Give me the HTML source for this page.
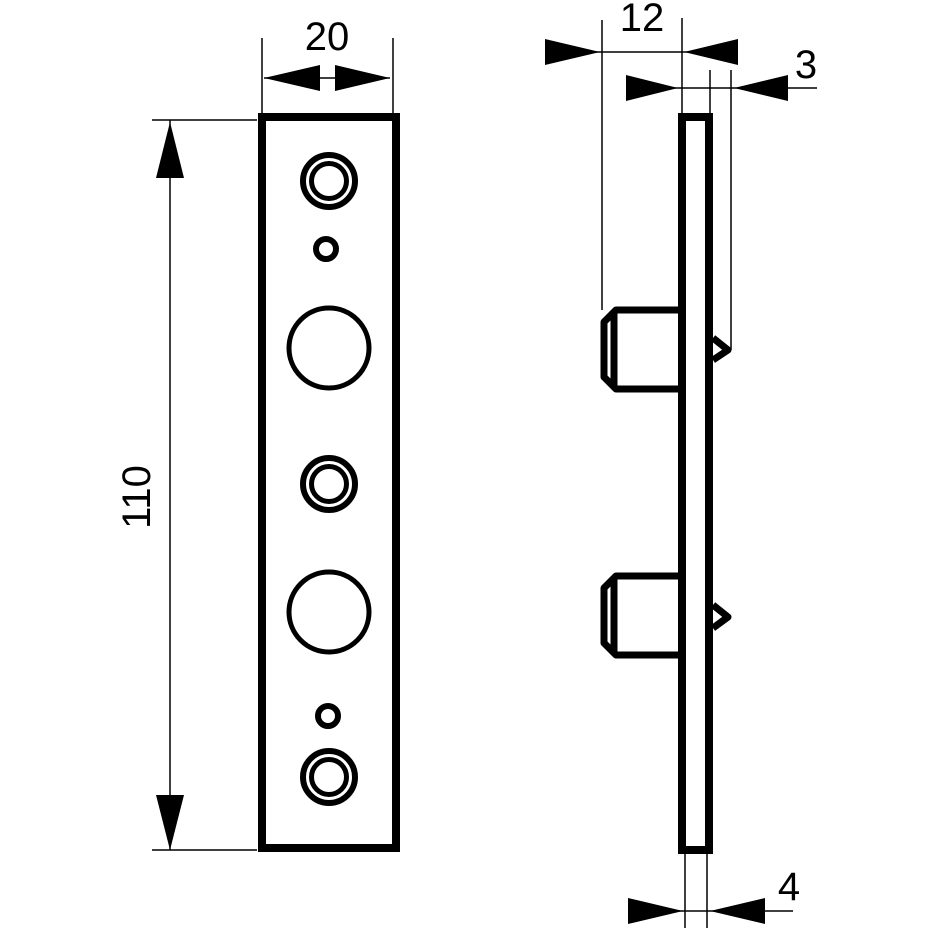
<!DOCTYPE html>
<html><head><style>html,body{margin:0;padding:0;background:#fff}svg{display:block}text{font-family:"Liberation Sans",sans-serif;fill:#000}</style></head>
<body>
<svg width="940" height="940" viewBox="0 0 940 940" xmlns="http://www.w3.org/2000/svg">
<rect x="262" y="117" width="134" height="731" fill="none" stroke="#000" stroke-width="8"/>
<g fill="none" stroke="#000">
 <circle cx="329" cy="181" r="26" stroke-width="6"/><circle cx="329" cy="181" r="17.5" stroke-width="5"/>
 <circle cx="329" cy="484" r="26" stroke-width="6"/><circle cx="329" cy="484" r="17.5" stroke-width="5"/>
 <circle cx="329" cy="777" r="26" stroke-width="6"/><circle cx="329" cy="777" r="17.5" stroke-width="5"/>
 <circle cx="326" cy="249" r="10" stroke-width="6"/>
 <circle cx="328" cy="716" r="10" stroke-width="6"/>
 <circle cx="329" cy="348" r="40" stroke-width="5"/>
 <circle cx="329" cy="612" r="40" stroke-width="5"/>
</g>
<g stroke="#000" stroke-width="1.5">
 <line x1="262" y1="38" x2="262" y2="113"/><line x1="393" y1="38" x2="393" y2="113"/>
 <line x1="264" y1="78" x2="390" y2="78"/>
 <line x1="152" y1="120" x2="257" y2="120"/><line x1="152" y1="850" x2="257" y2="850"/>
 <line x1="170" y1="120" x2="170" y2="850"/>
</g>
<polygon points="264,78 320,65 320,91" fill="#000"/>
<polygon points="390,78 335,65 335,91" fill="#000"/>
<polygon points="170,122 156,178 184,178" fill="#000"/>
<polygon points="170,850 156,795 184,795" fill="#000"/>
<text x="327" y="50" font-size="40" text-anchor="middle">20</text>
<text transform="translate(150,497) rotate(-90)" font-size="40" text-anchor="middle">110</text>
<rect x="682" y="117" width="27" height="733" fill="none" stroke="#000" stroke-width="8"/>
<g fill="none" stroke="#000" stroke-width="7" stroke-linejoin="round">
 <path d="M678,310 H616 L604,322 V377 L616,389 H678"/>
 <line x1="614" y1="312" x2="614" y2="387"/>
 <path d="M713,338 L728,350 L713,360"/>
 <path d="M678,576 H616 L604,588 V643 L616,655 H678"/>
 <line x1="614" y1="578" x2="614" y2="653"/>
 <path d="M713,605 L728,617 L713,628"/>
</g>
<g stroke="#000" stroke-width="1.5">
 <line x1="602" y1="20" x2="602" y2="310"/><line x1="682" y1="18" x2="682" y2="113"/>
 <line x1="545" y1="52" x2="738" y2="52"/>
 <line x1="710" y1="70" x2="710" y2="113"/><line x1="731" y1="70" x2="731" y2="350"/>
 <line x1="626" y1="88" x2="817" y2="88"/>
 <line x1="685" y1="853" x2="685" y2="928"/><line x1="707" y1="853" x2="707" y2="928"/>
 <line x1="628" y1="911" x2="793" y2="911"/>
</g>
<polygon points="600,52 545,39 545,65" fill="#000"/>
<polygon points="684,52 738,39 738,65" fill="#000"/>
<polygon points="678,88 626,75 626,101" fill="#000"/>
<polygon points="734,88 788,75 788,101" fill="#000"/>
<polygon points="683,911 628,898 628,924" fill="#000"/>
<polygon points="710,911 765,898 765,924" fill="#000"/>
<text x="642" y="31" font-size="40" text-anchor="middle">12</text>
<text x="806" y="78" font-size="40" text-anchor="middle">3</text>
<text x="789" y="900" font-size="40" text-anchor="middle">4</text>
</svg>
</body></html>
